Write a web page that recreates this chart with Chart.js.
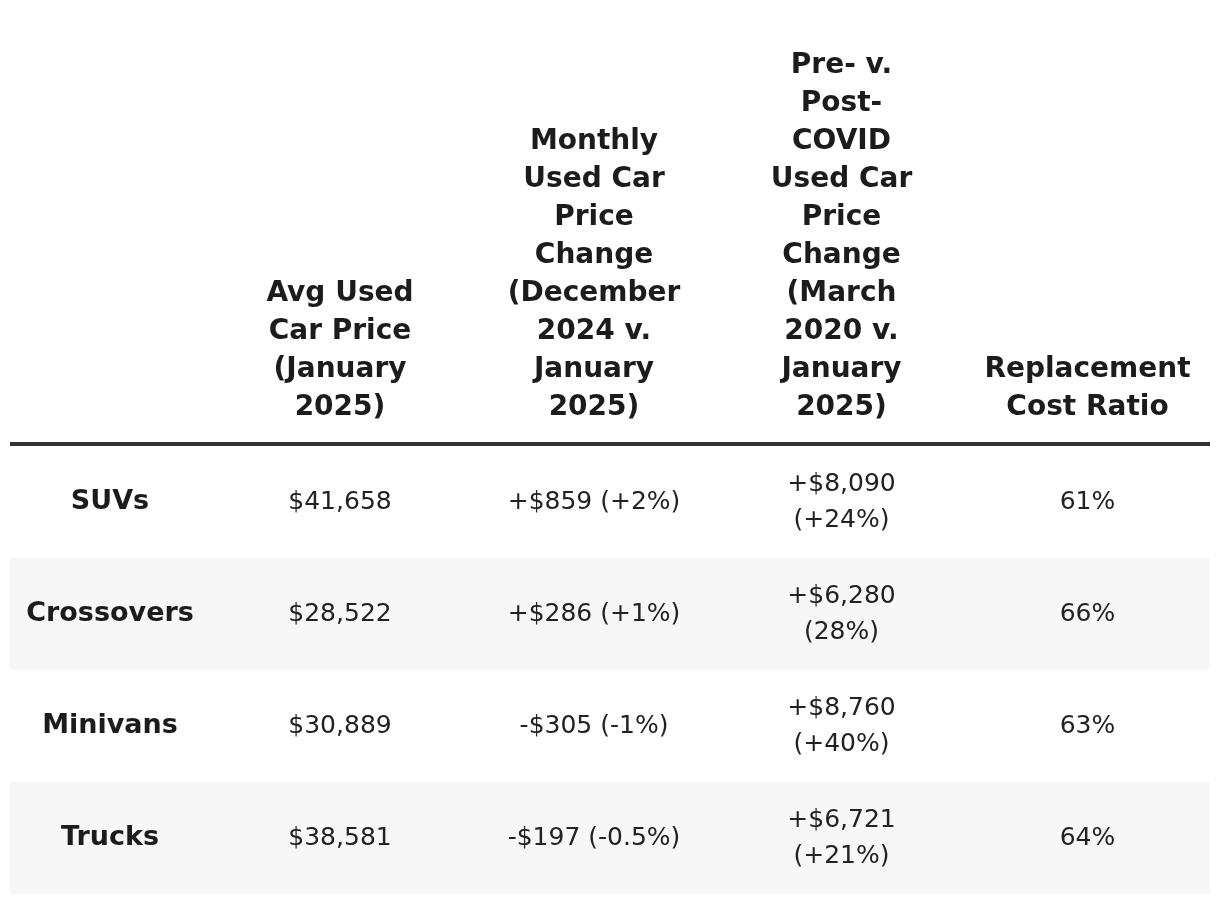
<!DOCTYPE html>
<html>
<head>
<meta charset="utf-8">
<script src="https://cdn.jsdelivr.net/npm/chart.js@4"></script>
<style>
  html, body { margin: 0; padding: 0; background: #fff; }
  #wrap { width: 1220px; height: 904px; position: relative; }
</style>
</head>
<body>
<div id="wrap"><canvas id="tbl"></canvas></div>
<script>
// table content
const headers = [
    [],
    ['Avg Used', 'Car Price', '(January', '2025)'],
    ['Monthly', 'Used Car', 'Price', 'Change', '(December', '2024 v.', 'January', '2025)'],
    ['Pre- v.', 'Post-', 'COVID', 'Used Car', 'Price', 'Change', '(March', '2020 v.', 'January', '2025)'],
    ['Replacement', 'Cost Ratio']
];
const categories = ['SUVs', 'Crossovers', 'Minivans', 'Trucks'];
const avgPrice = ['$41,658', '$28,522', '$30,889', '$38,581'];
const monthlyChange = ['+$859 (+2%)', '+$286 (+1%)', '-$305 (-1%)', '-$197 (-0.5%)'];
const covidChange = [['+$8,090', '(+24%)'], ['+$6,280', '(28%)'], ['+$8,760', '(+40%)'], ['+$6,721', '(+21%)']];
const replacementRatio = ['61%', '66%', '63%', '64%'];

// layout
const colWidths = [200, 260, 248, 247, 245];
const FONT = '"DejaVu Sans", sans-serif';

function colCenter(scale, i) {
    let left = 0;
    for (let k = 0; k < i; k++) left += colWidths[k];
    return scale.getPixelForValue(left + colWidths[i] / 2);
}

const tablePlugin = {
    id: 'tableText',
    afterDatasetsDraw(chart) {
        const ctx = chart.ctx;
        const xs = chart.scales.x;
        const ys = chart.scales.y;
        const top = chart.chartArea.top;
        ctx.save();
        ctx.textAlign = 'center';
        ctx.textBaseline = 'middle';

        // header
        ctx.fillStyle = '#1c1c1c';
        ctx.font = 'bold 28px ' + FONT;
        headers.forEach((lines, c) => {
            const cx = colCenter(xs, c);
            lines.forEach((ln, j) => {
                const y = top - 38 - (lines.length - 1 - j) * 38;
                ctx.fillText(ln, cx, y);
            });
        });

        // header rule
        ctx.strokeStyle = '#333333';
        ctx.lineWidth = 4;
        ctx.beginPath();
        ctx.moveTo(chart.chartArea.left, top - 2);
        ctx.lineTo(chart.chartArea.right, top - 2);
        ctx.stroke();

        // body
        categories.forEach((cat, r) => {
            const cy = ys.getPixelForValue(r);
            ctx.fillStyle = '#1c1c1c';
            ctx.font = 'bold 27px ' + FONT;
            ctx.fillText(cat, colCenter(xs, 0), cy);
            ctx.fillStyle = '#222222';
            ctx.font = '25px ' + FONT;
            ctx.fillText(avgPrice[r], colCenter(xs, 1), cy);
            ctx.fillText(monthlyChange[r], colCenter(xs, 2), cy);
            ctx.fillText(covidChange[r][0], colCenter(xs, 3), cy - 18);
            ctx.fillText(covidChange[r][1], colCenter(xs, 3), cy + 18);
            ctx.fillText(replacementRatio[r], colCenter(xs, 4), cy);
        });
        ctx.restore();
    }
};

const totalWidth = colWidths.reduce((a, b) => a + b, 0);

new Chart(document.getElementById('tbl'), {
    type: 'bar',
    data: {
        labels: categories,
        datasets: [{
            data: categories.map(() => totalWidth),
            backgroundColor: categories.map((_, i) => i % 2 ? '#f7f7f7' : '#ffffff'),
            borderWidth: 0,
            barPercentage: 1,
            categoryPercentage: 1
        }]
    },
    options: {
        indexAxis: 'y',
        responsive: true,
        maintainAspectRatio: false,
        animation: false,
        layout: { padding: { left: 10, right: 10, top: 446, bottom: 10 } },
        plugins: { legend: { display: false }, tooltip: { enabled: false } },
        scales: {
            x: { display: false, min: 0, max: totalWidth },
            y: { display: false }
        }
    },
    plugins: [tablePlugin]
});
</script>
</body>
</html>
